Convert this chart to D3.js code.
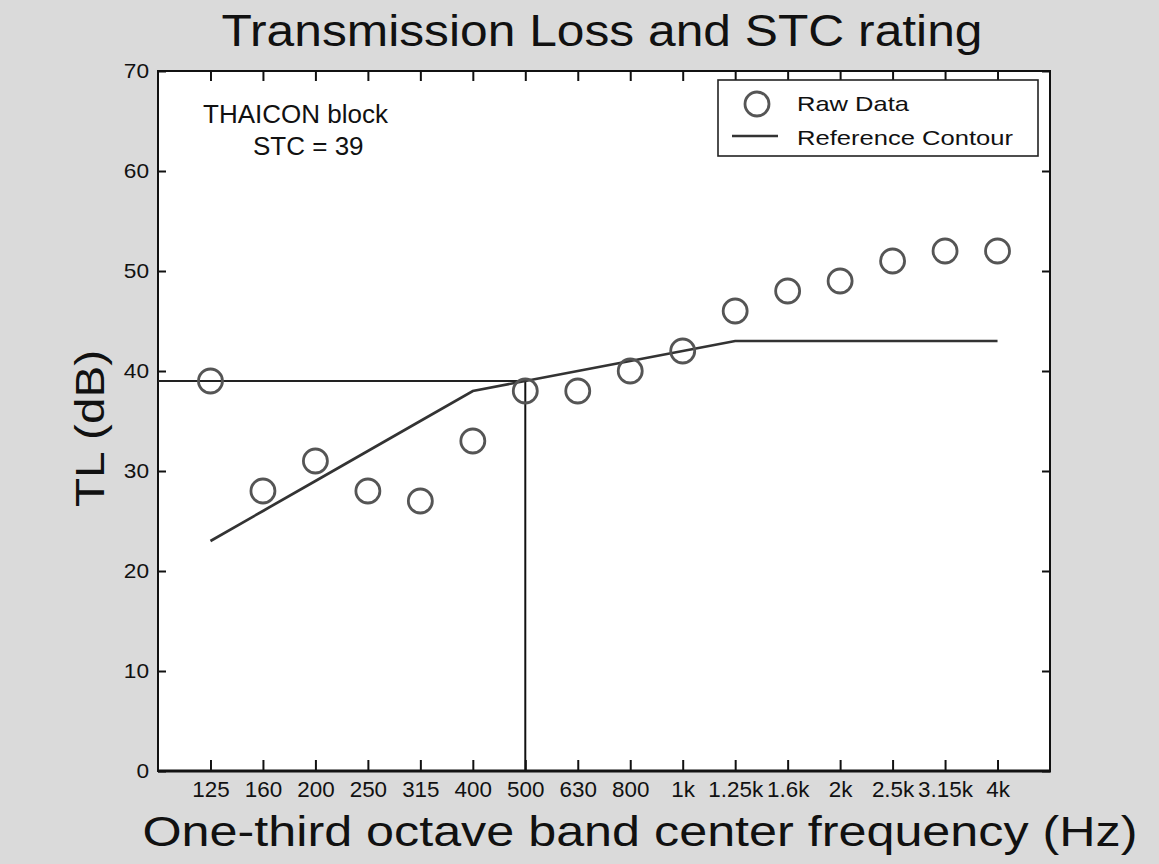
<!DOCTYPE html>
<html>
<head>
<meta charset="utf-8">
<script src="https://cdn.jsdelivr.net/npm/d3@7"></script>
<style>
  html, body { margin: 0; padding: 0; background: #dadada; }
  svg { display: block; }
  text { font-family: "Liberation Sans", Arial, sans-serif; fill: #111; }
</style>
</head>
<body>
<svg id="chart" width="1159" height="864"></svg>
<script>
// ---- data ----
const categories = ["125","160","200","250","315","400","500","630","800","1k","1.25k","1.6k","2k","2.5k","3.15k","4k"];
const rawData = [39, 28, 31, 28, 27, 33, 38, 38, 40, 42, 46, 48, 49, 51, 52, 52];
const referenceContour = [23, 26, 29, 32, 35, 38, 39, 40, 41, 42, 43, 43, 43, 43, 43, 43];
const yTicks = [0, 10, 20, 30, 40, 50, 60, 70];
const stcValue = 39;
const stcBand = "500";
const titleText = "Transmission Loss and STC rating";
const xLabel = "One-third octave band center frequency (Hz)";
const yLabel = "TL (dB)";
const noteLines = ["THAICON block", "STC = 39"];
const legendLabels = ["Raw Data", "Reference Contour"];

// ---- layout ----
const L = 158, R = 1050, T = 71, B = 771;
const svg = d3.select("#chart");

const x = d3.scalePoint().domain(categories).range([L, R]).padding(1);
const y = d3.scaleLinear().domain([0, 70]).range([B, T]);

function stretchTo(sel, target) {
  sel.attr("textLength", target).attr("lengthAdjust", "spacingAndGlyphs");
}
function stretchBy(sel, k) {
  sel.each(function () {
    const w = this.getComputedTextLength();
    d3.select(this).attr("textLength", w * k).attr("lengthAdjust", "spacingAndGlyphs");
  });
}

// plot background
svg.append("rect").attr("x", L).attr("y", T).attr("width", R - L).attr("height", B - T)
  .attr("fill", "#ffffff");

// axes
const gL = svg.append("g").attr("transform", `translate(${L},0)`)
  .call(d3.axisLeft(y).tickValues(yTicks).tickSize(-8).tickPadding(9).tickFormat(d3.format("d")));
const gR = svg.append("g").attr("transform", `translate(${R},0)`)
  .call(d3.axisRight(y).tickValues(yTicks).tickSize(-8).tickFormat(""));
const gB = svg.append("g").attr("transform", `translate(0,${B})`)
  .call(d3.axisBottom(x).tickSize(-11).tickPadding(10));
const gT = svg.append("g").attr("transform", `translate(0,${T})`)
  .call(d3.axisTop(x).tickSize(-10).tickFormat(""));

[gL, gR, gB, gT].forEach(g => {
  g.select(".domain").remove();
  g.selectAll(".tick line").attr("stroke", "#111").attr("stroke-width", 2);
  g.selectAll(".tick text").attr("fill", "#222")
    .style("font-family", "'Liberation Sans', Arial, sans-serif");
});
gL.selectAll(".tick text").attr("font-size", 21);
gB.selectAll(".tick text").attr("font-size", 22);
stretchBy(gL.selectAll(".tick text"), 1.08);
stretchBy(gB.selectAll(".tick text"), 1.02);

// frame
svg.append("rect").attr("x", L).attr("y", T).attr("width", R - L).attr("height", B - T)
  .attr("fill", "none").attr("stroke", "#111").attr("stroke-width", 2);
svg.append("line").attr("x1", L).attr("x2", R + 1).attr("y1", B).attr("y2", B)
  .attr("stroke", "#111").attr("stroke-width", 3);

// STC marker lines
svg.append("line")
  .attr("x1", L).attr("x2", x(stcBand))
  .attr("y1", y(stcValue)).attr("y2", y(stcValue))
  .attr("stroke", "#222").attr("stroke-width", 1.8);
svg.append("line")
  .attr("x1", x(stcBand)).attr("x2", x(stcBand))
  .attr("y1", y(stcValue)).attr("y2", y(0))
  .attr("stroke", "#111").attr("stroke-width", 2);

// reference contour
const line = d3.line().x((d, i) => x(categories[i])).y(d => y(d));
svg.append("path").datum(referenceContour)
  .attr("d", line).attr("fill", "none")
  .attr("stroke", "#333").attr("stroke-width", 2.6);

// raw data circles
svg.append("g").selectAll("circle").data(rawData).join("circle")
  .attr("cx", (d, i) => x(categories[i]))
  .attr("cy", d => y(d))
  .attr("r", 12)
  .attr("fill", "none").attr("stroke", "#555").attr("stroke-width", 2.8);

// annotation
svg.append("text").attr("x", 203).attr("y", 123).attr("font-size", 26).text(noteLines[0]);
svg.append("text").attr("x", 253).attr("y", 155).attr("font-size", 26).text(noteLines[1]);

// legend
const lg = svg.append("g");
lg.append("rect").attr("x", 718).attr("y", 80).attr("width", 320).attr("height", 76)
  .attr("fill", "#fff").attr("stroke", "#222").attr("stroke-width", 1.6);
lg.append("circle").attr("cx", 757).attr("cy", 104).attr("r", 12)
  .attr("fill", "none").attr("stroke", "#555").attr("stroke-width", 2.8);
lg.append("line").attr("x1", 732).attr("x2", 778).attr("y1", 136).attr("y2", 136)
  .attr("stroke", "#333").attr("stroke-width", 2.6);
const lt1 = lg.append("text").attr("x", 797).attr("y", 111).attr("font-size", 21).text(legendLabels[0]);
const lt2 = lg.append("text").attr("x", 797).attr("y", 145).attr("font-size", 21).text(legendLabels[1]);
stretchTo(lt1, 112);
stretchTo(lt2, 216);

// title and axis labels
const tt = svg.append("text").attr("x", 602).attr("y", 46).attr("text-anchor", "middle")
  .attr("font-size", 44).text(titleText);
stretchTo(tt, 761);
const xl = svg.append("text").attr("x", 640).attr("y", 846).attr("text-anchor", "middle")
  .attr("font-size", 42).text(xLabel);
stretchTo(xl, 995);
const yl = svg.append("text").attr("transform", "translate(104,428.5) rotate(-90)")
  .attr("text-anchor", "middle").attr("font-size", 40).text(yLabel);
stretchTo(yl, 157);
</script>
</body>
</html>
